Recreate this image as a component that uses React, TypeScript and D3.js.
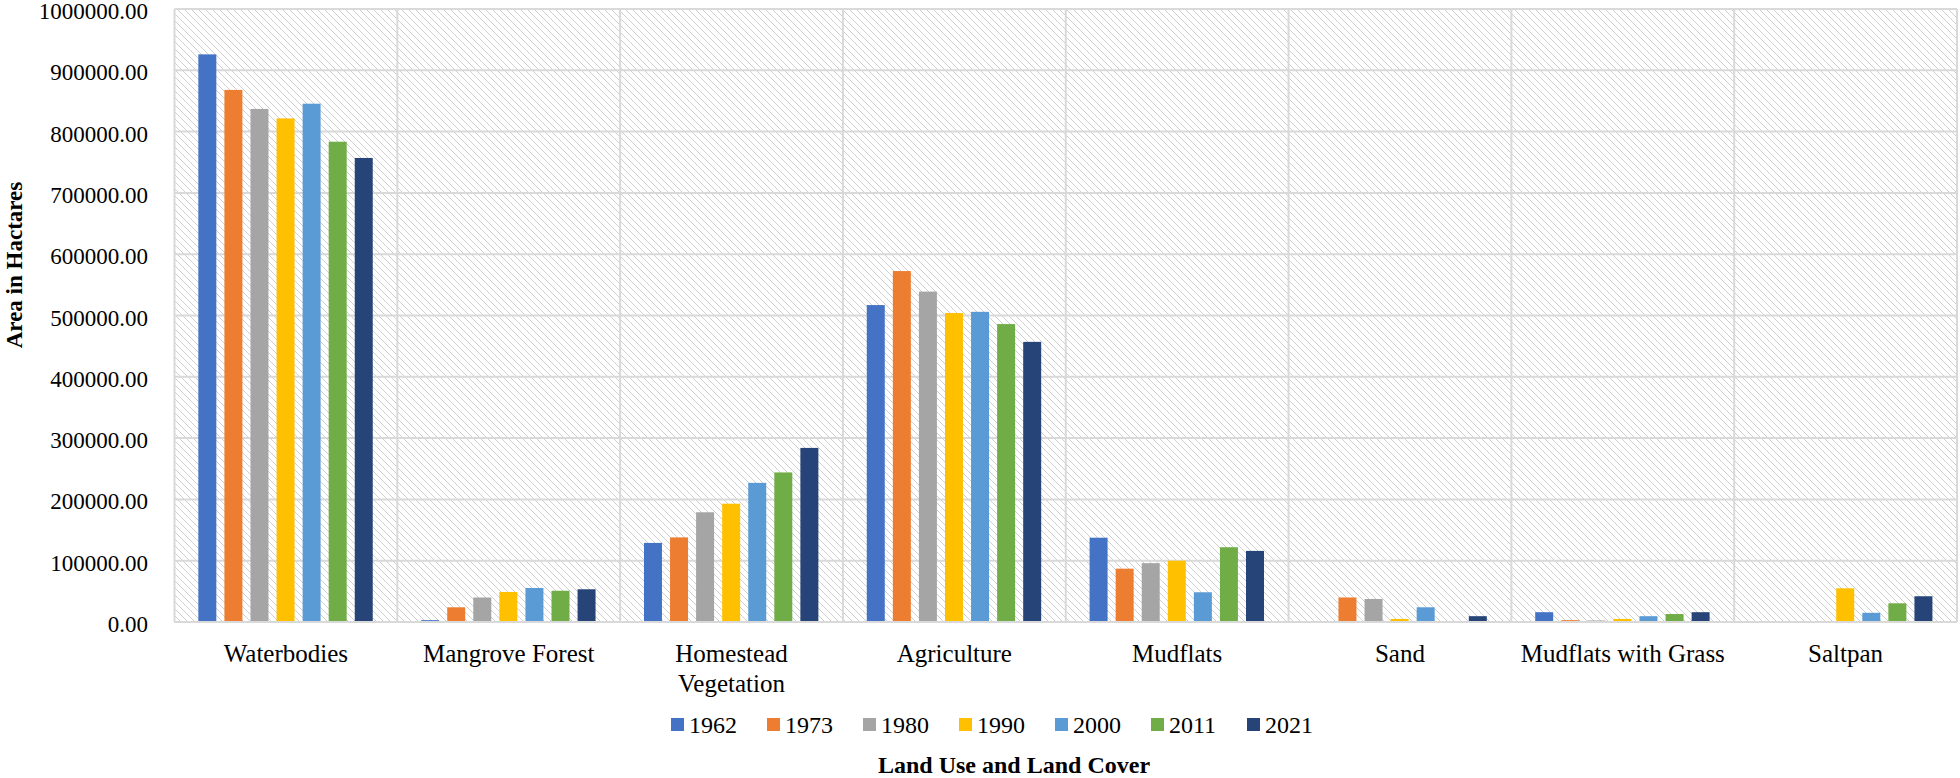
import React from "react";
import * as d3 from "d3";

const categories = [
  ["Waterbodies"],
  ["Mangrove Forest"],
  ["Homestead", "Vegetation"],
  ["Agriculture"],
  ["Mudflats"],
  ["Sand"],
  ["Mudflats with Grass"],
  ["Saltpan"],
];
const years = ["1962", "1973", "1980", "1990", "2000", "2011", "2021"];
const colors = ["#4472C4", "#ED7D31", "#A5A5A5", "#FFC000", "#5B9BD5", "#70AD47", "#264478"];

// values per category, in year order
const waterbodies = [926000, 868000, 837000, 821500, 845500, 783500, 757000];
const mangrove = [3000, 24000, 40000, 49000, 55500, 51000, 53400];
const homestead = [129000, 138000, 179000, 193000, 227000, 244000, 284000];
const agriculture = [517000, 572500, 539000, 504000, 506000, 486000, 457000];
const mudflats = [137500, 87000, 96000, 100000, 48500, 122000, 116000];
const sand = [0, 40000, 37500, 5000, 24000, 0, 9500];
const mudflatsGrass = [16000, 3000, 2500, 5000, 9500, 13000, 16000];
const saltpan = [0, 0, 0, 55000, 15000, 30500, 42000];
const seriesByCategory = [waterbodies, mangrove, homestead, agriculture, mudflats, sand, mudflatsGrass, saltpan];

const yTicks = [0, 100000, 200000, 300000, 400000, 500000, 600000, 700000, 800000, 900000, 1000000];

const W = 1960;
const H = 778;
const plot = { left: 174.5, right: 1957, top: 9, bottom: 622 };
const serif = "'Liberation Serif', 'Times New Roman', serif";

export default function App() {
  const x = d3
    .scaleBand<number>()
    .domain(d3.range(categories.length))
    .range([plot.left, plot.right])
    .padding(0);
  const bw = x.bandwidth();
  const inner = d3
    .scaleBand<string>()
    .domain(years)
    .range([bw * 0.107, bw * 0.107 + 174.4])
    .paddingInner(0.31)
    .paddingOuter(0);
  const y = d3.scaleLinear().domain([0, 1000000]).range([plot.bottom, plot.top]);

  const legendStart = 671;
  const legendStep = 96;

  return (
    <svg
      width={W}
      height={H}
      style={{ position: "absolute", left: 0, top: 0, background: "#fff" }}
      fontFamily={serif}
    >
      <defs>
        <pattern id="hatch" patternUnits="userSpaceOnUse" width="7" height="7">
          <path d="M-1,-1 L8,8 M-8,-1 L1,8 M6,-1 L15,8" stroke="#cfcfcf" strokeWidth="1" />
        </pattern>
      </defs>
      <rect x={plot.left} y={plot.top} width={plot.right - plot.left} height={plot.bottom - plot.top} fill="url(#hatch)" />
      {/* horizontal gridlines */}
      {yTicks.map((t) => (
        <line key={t} x1={plot.left} x2={plot.right} y1={y(t)} y2={y(t)} stroke="#d9d9d9" strokeWidth={2} />
      ))}
      {/* vertical gridlines */}
      {d3.range(categories.length + 1).map((i) => {
        const xx = i < categories.length ? x(i)! : plot.right;
        return <line key={i} x1={xx} x2={xx} y1={plot.top} y2={plot.bottom} stroke="#d9d9d9" strokeWidth={2} />;
      })}
      {/* bars */}
      {seriesByCategory.map((vals, ci) =>
        vals.map((v, si) =>
          v > 0 ? (
            <rect
              key={ci + "-" + si}
              x={x(ci)! + inner(years[si])!}
              y={y(v)}
              width={inner.bandwidth()}
              height={y(0) - y(v)}
              fill={colors[si]}
            />
          ) : null
        )
      )}
      <line x1={plot.left} x2={plot.right} y1={plot.bottom} y2={plot.bottom} stroke="#d9d9d9" strokeWidth={2} />
      {/* y tick labels */}
      {yTicks.map((t) => (
        <text key={t} x={148} y={y(t) + 10} textAnchor="end" fontSize={23} fill="#000">
          {t.toFixed(2)}
        </text>
      ))}
      {/* category labels */}
      {categories.map((lines, i) => (
        <text key={i} x={x(i)! + bw / 2} y={662} textAnchor="middle" fontSize={25} fill="#000">
          {lines.map((l, k) => (
            <tspan key={k} x={x(i)! + bw / 2} dy={k === 0 ? 0 : 30}>
              {l}
            </tspan>
          ))}
        </text>
      ))}
      {/* legend */}
      {years.map((yr, i) => (
        <g key={yr} transform={`translate(${legendStart + i * legendStep},725)`}>
          <rect x={0} y={-7} width={13} height={13} fill={colors[i]} />
          <text x={18} y={0} dy="0.35em" fontSize={24} fill="#000">
            {yr}
          </text>
        </g>
      ))}
      {/* axis titles */}
      <text x={1014} y={773} textAnchor="middle" fontSize={24} fontWeight="bold" fill="#000">
        Land Use and Land Cover
      </text>
      <text
        transform={`translate(22,265) rotate(-90)`}
        textAnchor="middle"
        fontSize={23}
        fontWeight="bold"
        fill="#000"
      >
        Area in Hactares
      </text>
    </svg>
  );
}
